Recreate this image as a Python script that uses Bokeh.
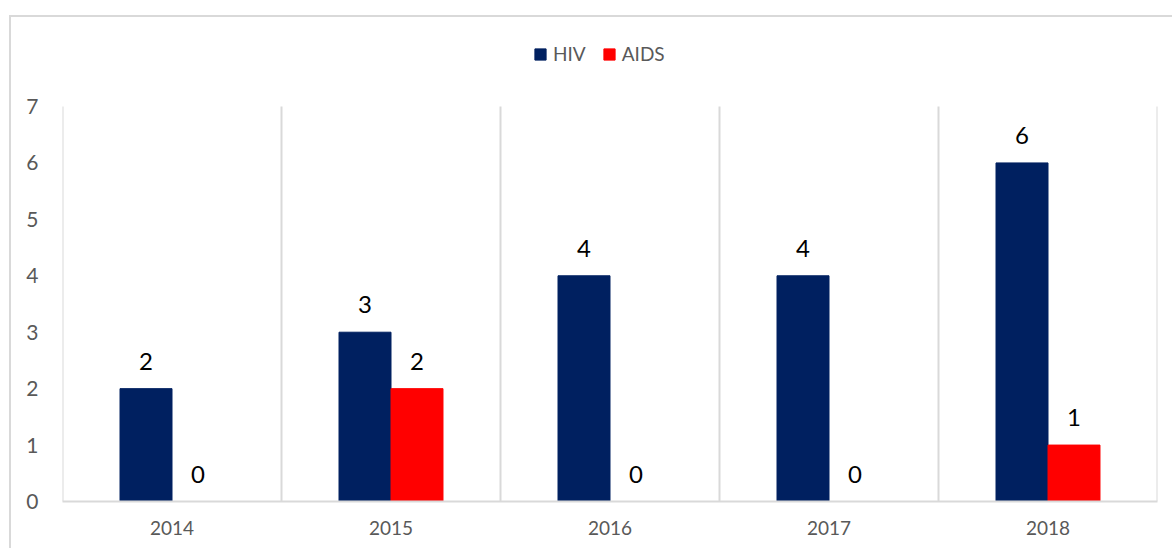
from bokeh.plotting import figure
from bokeh.models import (FactorRange, Range1d, ColumnDataSource, LabelSet, Legend,
                          LegendItem, FixedTicker)
from bokeh.transform import dodge
from bokeh.core.properties import value
from bokeh.embed import file_html
from bokeh.resources import INLINE

years = ["2014", "2015", "2016", "2017", "2018"]
hiv = [2, 3, 4, 4, 6]
aids = [0, 2, 0, 0, 1]
series_names = ["HIV", "AIDS"]
y_ticks = [0, 1, 2, 3, 4, 5, 6, 7]

FONT = "Lato"
GRAY = "#595959"
LINE = "#d9d9d9"
BW = 0.2374

# frame extends above the value axis to hold the legend (pixels)
FRAME_TOP, VAL_TOP, BASE = 40, 106, 501
ymax = y_ticks[-1] * (BASE - FRAME_TOP) / (BASE - VAL_TOP)

src = ColumnDataSource(dict(
    year=years, hiv=hiv, aids=aids,
    hiv_lbl=[str(v) for v in hiv], aids_lbl=[str(v) for v in aids],
))

p = figure(x_range=FactorRange(*years, range_padding=0), y_range=Range1d(0, ymax),
           width=1163, height=533, output_backend="svg", toolbar_location=None,
           min_border_left=51, min_border_right=17, min_border_top=23, min_border_bottom=49)
p.margin = (15, 0, 0, 9)
p.styles = {"border-top": "2px solid #d9d9d9", "border-left": "2px solid #d9d9d9"}

p.outline_line_color = None
p.xgrid.grid_line_color = None
p.ygrid.grid_line_color = None

# category separators from 0 to the top tick
sep_x = list(range(len(years) + 1))
p.segment(x0=sep_x, y0=[0] * len(sep_x), x1=sep_x, y1=[y_ticks[-1]] * len(sep_x),
          line_color=LINE, line_width=2)

r1 = p.vbar(x=dodge("year", -BW / 2, range=p.x_range), top="hiv", width=BW,
            source=src, fill_color="#002060", line_color="#002060")
r2 = p.vbar(x=dodge("year", BW / 2, range=p.x_range), top="aids", width=BW,
            source=src, fill_color="#ff0000", line_color="#ff0000")

for col, off in (("hiv", -BW / 2), ("aids", BW / 2)):
    p.add_layout(LabelSet(x=dodge("year", off, range=p.x_range), y=col, text=col + "_lbl",
                          source=src, text_align="center", text_baseline="alphabetic",
                          y_offset=19, text_font=value(FONT), text_font_size="24px",
                          text_color="#000000"))

p.xaxis.axis_line_color = LINE
p.xaxis.axis_line_width = 2
p.xaxis.major_tick_line_color = None
p.xaxis.minor_tick_line_color = None
p.xaxis.major_label_standoff = 13
p.xaxis.major_label_text_font = FONT
p.xaxis.major_label_text_font_size = "19px"
p.xaxis.major_label_text_color = GRAY

p.yaxis.ticker = FixedTicker(ticks=y_ticks)
p.yaxis.axis_line_color = None
p.yaxis.major_tick_line_color = None
p.yaxis.minor_tick_line_color = None
p.yaxis.major_label_standoff = 18
p.yaxis.major_label_text_font = FONT
p.yaxis.major_label_text_font_size = "21px"
p.yaxis.major_label_text_color = GRAY

legend = Legend(items=[LegendItem(label=series_names[0], renderers=[r1]),
                       LegendItem(label=series_names[1], renderers=[r2])],
                orientation="horizontal", location=(471, 436),
                glyph_width=14, glyph_height=14, label_standoff=6, spacing=16,
                padding=0, margin=0, background_fill_alpha=0, border_line_color=None,
                label_text_font=FONT, label_text_font_size="19px", label_text_color=GRAY)
p.add_layout(legend, "center")

open("out.html", "w").write(file_html(p, INLINE))
